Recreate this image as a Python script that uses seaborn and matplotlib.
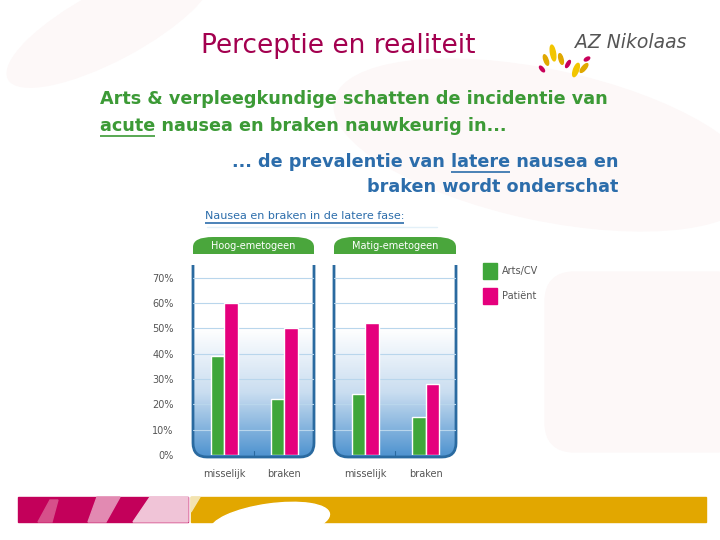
import numpy as np
import pandas as pd
import seaborn as sns
import matplotlib.pyplot as plt
from matplotlib.path import Path
from matplotlib.patches import PathPatch, Ellipse, Rectangle, Polygon, FancyBboxPatch
from matplotlib.colors import LinearSegmentedColormap

sns.set_style("white")
plt.rcParams['font.family'] = ['DejaVu Sans']

# data
groups = ["Hoog-emetogeen", "Matig-emetogeen"]
categories = ["misselijk", "braken"]
roles = ["Arts/CV", "Patiënt"]
arts_cv = {"Hoog-emetogeen": [39, 22], "Matig-emetogeen": [24, 15]}
patient = {"Hoog-emetogeen": [60, 50], "Matig-emetogeen": [52, 28]}
yticks = [0, 10, 20, 30, 40, 50, 60, 70]

rows = []
for g in groups:
    for i, c in enumerate(categories):
        rows.append((g, c, roles[0], arts_cv[g][i]))
        rows.append((g, c, roles[1], patient[g][i]))
df = pd.DataFrame(rows, columns=["group", "category", "role", "value"])

GREEN = "#3fa63a"
PINK = "#e5007d"
BLUE = "#2a6aa0"
palette = {roles[0]: GREEN, roles[1]: PINK}

fig = plt.figure(figsize=(7.2, 5.4), dpi=100)
bg = fig.add_axes([0, 0, 1, 1])
bg.set_xlim(0, 720)
bg.set_ylim(540, 0)
bg.axis('off')

# faint background blobs
BLOB = "#fdf8f8"
bg.add_patch(Ellipse((110, 25), 230, 70, angle=-28, color=BLOB, zorder=0))
bg.add_patch(Ellipse((545, 145), 430, 150, angle=12, color=BLOB, zorder=0))
bg.add_patch(FancyBboxPatch((545, 272), 200, 180, boxstyle="round,pad=0,rounding_size=30",
                            color=BLOB, zorder=0))

# titles
bg.text(338, 46, "Perceptie en realiteit", fontsize=19, color="#a3004f",
        ha='center', va='center')
bg.text(575, 43, "AZ Nikolaas", fontsize=13.5, color="#555555", style='italic',
        ha='left', va='center')
for (cx, cy, w, h, a, col) in [(553, 53, 5, 16, -10, "#f2c500"), (546, 60, 4, 11, -20, "#e0a800"),
                               (561, 59, 4, 11, -15, "#e0a800"), (542, 69, 3, 7, -40, "#c8005a"),
                               (568, 64, 3, 8, 30, "#c8005a"), (576, 70, 5, 14, 20, "#f2c500"),
                               (584, 68, 4, 11, 40, "#e0a800"), (587, 59, 3, 6, 60, "#c8005a")]:
    bg.add_patch(Ellipse((cx, cy), w, h, angle=a, color=col, zorder=1))

fig.canvas.draw()
rend = fig.canvas.get_renderer()


def width_of(s, **kw):
    t = bg.text(0, 0, s, **kw)
    w = t.get_window_extent(rend).width
    t.remove()
    return w


def underline(x0, x1, y, color):
    bg.plot([x0, x1], [y, y], color=color, lw=1.2, solid_capstyle='butt')


tkw = dict(fontsize=12.7, fontweight='bold')
gcol = "#3c9a36"
bcol = "#2c6dab"
bg.text(100, 99, "Arts & verpleegkundige schatten de incidentie van", color=gcol, va='center', **tkw)
bg.text(100, 126, "acute nausea en braken nauwkeurig in...", color=gcol, va='center', **tkw)
underline(100, 100 + width_of("acute", **tkw), 136, gcol)

line3 = "... de prevalentie van latere nausea en"
bg.text(618, 162, line3, color=bcol, va='center', ha='right', **tkw)
left3 = 618 - width_of(line3, **tkw)
end_l = left3 + width_of("... de prevalentie van latere", **tkw)
underline(end_l - width_of("latere", **tkw), end_l, 172, bcol)
bg.text(618, 187, "braken wordt onderschat", color=bcol, va='center', ha='right', **tkw)

skw = dict(fontsize=8)
bg.text(205, 216, "Nausea en braken in de latere fase:", color=bcol, va='center', **skw)
underline(205, 205 + width_of("Nausea en braken in de latere fase:", **skw), 223, bcol)
bg.plot([207, 437], [227, 227], color="#e3f0f8", lw=1)

# panels
cmap = LinearSegmentedColormap.from_list("grad", ["#ffffff", "#ffffff", "#c9ddf0", "#4d92cf"])
grad = np.linspace(0, 1, 256).reshape(-1, 1)
panels = [(193, 314), (334, 456)]
T, B, r = 265, 457, 14
for (L, R), g in zip(panels, groups):
    verts = [(L, T), (L, B - r), (L, B), (L + r, B), (R - r, B), (R, B), (R, B - r), (R, T)]
    codes = [Path.MOVETO, Path.LINETO, Path.CURVE3, Path.CURVE3, Path.LINETO,
             Path.CURVE3, Path.CURVE3, Path.LINETO]
    clip = PathPatch(Path(verts + [(L, T)], codes + [Path.CLOSEPOLY]), transform=bg.transData,
                     fc='none', ec='none')
    bg.add_patch(clip)
    im = bg.imshow(grad, extent=(L, R, B, T), cmap=cmap, aspect='auto', zorder=1)
    im.set_clip_path(clip)
    bg.add_patch(PathPatch(Path(verts, codes), fc='none', ec=BLUE, lw=2, zorder=5))
    bg.plot([(L + R) / 2, (L + R) / 2], [B - 6, B - 2], color=BLUE, lw=0.8, zorder=5)

    # header tab
    ht, hb, hr = 237, 254, 10
    tv = [(L, hb), (L, ht + hr), (L, ht), (L + hr * 2, ht), (R - hr * 2, ht), (R, ht), (R, ht + hr), (R, hb), (L, hb)]
    tc = [Path.MOVETO, Path.LINETO, Path.CURVE3, Path.CURVE3, Path.LINETO, Path.CURVE3, Path.CURVE3,
          Path.LINETO, Path.CLOSEPOLY]
    bg.add_patch(PathPatch(Path(tv, tc), fc="#4aa63c", ec='none', zorder=3))
    bg.text((L + R) / 2, 246, g, color="white", fontsize=7, ha='center', va='center', zorder=4)

    ax = fig.add_axes([L / 720, (540 - 455) / 540, (R - L) / 720, 190 / 540])
    ax.set_zorder(2)
    ax.patch.set_alpha(0)
    for y in yticks[1:]:
        ax.axhline(y, color="#b9d6ec", lw=0.8, zorder=0)
    sns.barplot(data=df[df.group == g], x="category", y="value", hue="role",
                order=categories, hue_order=roles, palette=palette, width=0.45,
                saturation=1, ax=ax, legend=False, zorder=3)
    ax.set_xlim(-0.52, 1.5)
    ax.set_ylim(0, 75)
    ax.set_xlabel("")
    ax.set_ylabel("")
    sns.despine(ax=ax, left=True, bottom=True)
    ax.tick_params(length=0, labelsize=7, labelcolor="#555555", pad=10)
    ax.tick_params(axis='y', pad=14)
    if g == groups[0]:
        ax.set_yticks(yticks)
        ax.set_yticklabels([f"{v}%" for v in yticks])
    else:
        ax.set_yticks([])

# legend
for i, role in enumerate(roles):
    y0 = 263 + i * 25
    bg.add_patch(Rectangle((483, y0), 14, 16, color=palette[role], zorder=3))
    bg.text(502, y0 + 8, role, fontsize=7, color="#555555", va='center')

# bottom band
bg.add_patch(Rectangle((18, 497), 170, 25, color="#c3005a", zorder=1))
for pts, col in [([(38, 522), (50, 500), (58, 500), (52, 522)], "#d6508a"),
                 ([(88, 522), (97, 497), (120, 497), (106, 522)], "#e28ab2"),
                 ([(133, 522), (150, 497), (188, 497), (188, 522)], "#f0c4d7")]:
    bg.add_patch(Polygon(pts, color=col, zorder=2))
bg.add_patch(Rectangle((191, 497), 515, 25, color="#e2a700", zorder=1))
bg.add_patch(Polygon([(191, 497), (200, 497), (191, 512)], color="#f3e3b0", zorder=2))
bg.add_patch(Ellipse((270, 522), 120, 36, angle=-8, color="white", zorder=2))

fig.savefig("out.png", dpi=100)
